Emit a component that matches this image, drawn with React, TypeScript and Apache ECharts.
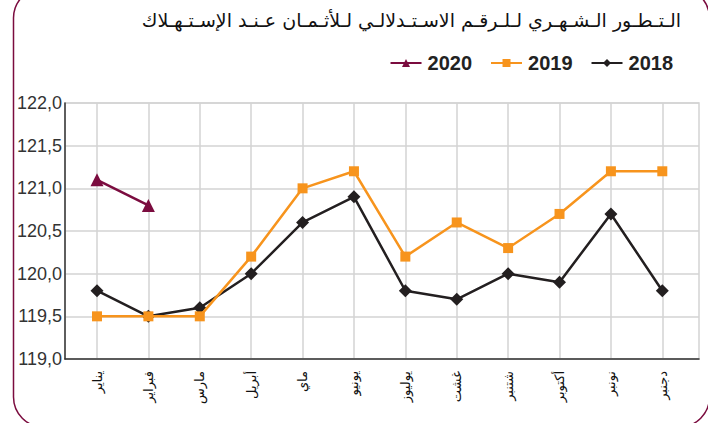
import React, { useEffect, useRef } from "react";
import * as echarts from "echarts";

const months = ["يناير", "فبراير", "مارس", "أبريل", "ماي", "يونيو", "يوليوز", "غشت", "شتنبر", "أكتوبر", "نونبر", "دجنبر"];
const s2018 = [119.8, 119.5, 119.6, 120.0, 120.6, 120.9, 119.8, 119.7, 120.0, 119.9, 120.7, 119.8];
const s2019 = [119.5, 119.5, 119.5, 120.2, 121.0, 121.2, 120.2, 120.6, 120.3, 120.7, 121.2, 121.2];
const s2020 = [121.1, 120.8];
const titleText = "الـتـطـور الـشـهـري لـلـرقـم الاسـتـدلالـي لـلأثـمـان عـنـد الإسـتـهـلاك";

export default function App() {
  const ref = useRef<HTMLDivElement>(null);
  useEffect(() => {
    document.body.style.margin = "0";
    const chart = echarts.init(ref.current!, null, { renderer: "svg" });
    const gridColor = "#d3d3d3";
    chart.setOption({
      animation: false,
      backgroundColor: "#fff",
      title: {
        text: titleText,
        right: 22,
        top: 5,
        textStyle: { fontFamily: "DejaVu Sans", fontSize: 19, fontWeight: "normal", color: "#111" },
      },
      legend: {
        data: ["2020", "2019", "2018"],
        right: 30,
        top: 48,
        itemWidth: 31,
        itemHeight: 10,
        itemGap: 18,
        textStyle: { fontFamily: "Liberation Sans Narrow, Liberation Sans", fontWeight: "bold", fontSize: 20, color: "#222", padding: [0, 0, 0, 1] },
      },
      graphic: [
        {
          type: "rect",
          shape: { x: 13.5, y: -12, width: 696, height: 439, r: 30 },
          style: { fill: "none", stroke: "#7b0c3f", lineWidth: 1.5 },
          silent: true,
        },
      ],
      grid: [
        { left: 65, top: 103, width: 634, height: 256, show: true, borderColor: gridColor, borderWidth: 1.5 },
        { left: 97, right: 45.7, top: 103, height: 256 },
      ],
      xAxis: [
        {
          gridIndex: 0,
          type: "value",
          min: 0,
          max: 1,
          axisLine: { show: true, lineStyle: { color: "#333", width: 1.5 } },
          axisTick: { show: false },
          axisLabel: { show: false },
          splitLine: { show: false },
        },
        {
          gridIndex: 1,
          type: "category",
          data: months,
          boundaryGap: false,
          axisLine: { show: false },
          axisTick: { show: false },
          splitLine: { show: true, lineStyle: { color: gridColor, width: 1.5 } },
          axisLabel: {
            interval: 0,
            rotate: 90,
            margin: 12,
            fontFamily: "DejaVu Sans",
            fontSize: 13,
            color: "#111",
          },
        },
      ],
      yAxis: [
        {
          gridIndex: 0,
          type: "value",
          min: 119,
          max: 122,
          interval: 0.5,
          axisLine: { show: true, lineStyle: { color: "#333", width: 1.5 } },
          axisTick: { show: false },
          splitLine: { show: true, lineStyle: { color: gridColor, width: 1.5 } },
          axisLabel: {
            margin: 3,
            fontFamily: "Liberation Sans",
            fontSize: 18,
            color: "#333",
            formatter: (v: number) => v.toFixed(1).replace(".", ","),
          },
        },
        { gridIndex: 1, type: "value", min: 119, max: 122, show: false },
      ],
      series: [
        {
          name: "2018",
          type: "line",
          xAxisIndex: 1,
          yAxisIndex: 1,
          data: s2018,
          symbol: "diamond",
          symbolSize: 13,
          color: "#231f20",
          lineStyle: { width: 2.5 },
          z: 3,
        },
        {
          name: "2019",
          type: "line",
          xAxisIndex: 1,
          yAxisIndex: 1,
          data: s2019,
          symbol: "rect",
          symbolSize: 10,
          color: "#f7941d",
          lineStyle: { width: 2.5 },
          z: 4,
        },
        {
          name: "2020",
          type: "line",
          xAxisIndex: 1,
          yAxisIndex: 1,
          data: s2020,
          symbol: "triangle",
          symbolSize: 13,
          color: "#7b0c3f",
          lineStyle: { width: 2.5 },
          z: 5,
        },
      ],
    });
    return () => chart.dispose();
  }, []);
  return <div ref={ref} style={{ width: 708, height: 423 }} />;
}
